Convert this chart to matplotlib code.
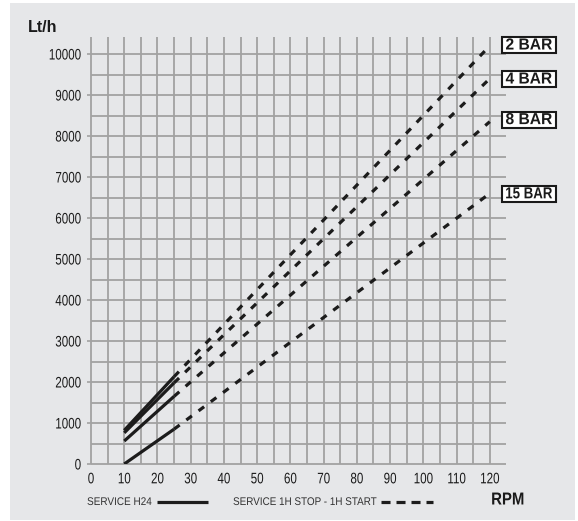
import numpy as np
import matplotlib
matplotlib.use('Agg')
import matplotlib.pyplot as plt
from matplotlib import font_manager
from matplotlib.patches import Rectangle
from matplotlib.lines import Line2D
from matplotlib.patheffects import AbstractPathEffect
from matplotlib.transforms import Affine2D

# pick a condensed font if one is installed
names = {f.name for f in font_manager.fontManager.ttflist}
fam = 'DejaVu Sans'
for cand in ['Liberation Sans Narrow', 'Liberation Sans', 'DejaVu Sans']:
    if cand in names:
        fam = cand
        break
plt.rcParams['font.family'] = [fam, 'DejaVu Sans']
plt.rcParams['lines.scale_dashes'] = False

# data: RPM knots and flow (Lt/h) per pressure
rpm = [10, 25, 120]
bar2 = [820, 2130, 10200]
bar4 = [760, 1980, 9400]
bar8 = [560, 1650, 8350]
bar15 = [0, 850, 6600]
seriesNames = ['2 BAR', '4 BAR', '8 BAR', '15 BAR']
labelY = [10220, 9390, 8400, 6590]
xTicks = list(range(0, 121, 10))
yTicks = list(range(0, 10001, 1000))


class Squeeze(AbstractPathEffect):
    """squeeze text horizontally (condensed look); sx or a target width in px"""
    def __init__(self, sx=None, anchor=0.0, width=None):
        super().__init__()
        self.sx, self.anchor, self.width = sx, anchor, width

    def draw_path(self, renderer, gc, tpath, affine, rgbFace=None):
        ext = tpath.get_extents()
        sx = self.sx
        if self.width is not None:
            sx = self.width / (ext.width * affine.get_matrix()[0, 0])
        ax0 = ext.x0 + ext.width * self.anchor
        t = Affine2D().translate(-ax0, 0).scale(sx, 1).translate(ax0, 0) + affine
        renderer.draw_path(gc, tpath, t, rgbFace)


W, H = 578, 521
fig = plt.figure(figsize=(W / 100, H / 100), dpi=100)
fig.patch.set_facecolor('white')
bg = Rectangle((10 / W, 1 / H), 565 / W, 517 / H, transform=fig.transFigure,
               facecolor='#e6e7e9', edgecolor='none', zorder=-10)
fig.patches.append(bg)

ax = fig.add_axes([91 / W, (H - 464) / H, 415.4 / W, 427.2 / H])
ax.set_facecolor('none')
ax.set_xlim(0, 125)
ax.set_ylim(0, 10420)
for s in ax.spines.values():
    s.set_visible(False)

gridClr = '#a2a2a2'
ax.vlines(np.arange(0, 121, 5), 0, 10420, color=gridClr, lw=1.3, clip_on=False, zorder=1)
ax.hlines(np.arange(0, 10001, 500), 0, 125, color=gridClr, lw=1.3, clip_on=False, zorder=1)

ax.set_xticks(xTicks)
ax.set_xticklabels([str(v) for v in xTicks])
ax.set_yticks(yTicks)
ax.set_yticklabels([str(v) for v in yTicks])
ax.tick_params(axis='x', length=0, pad=6, labelsize=11, colors='#1a1a1a')
ax.tick_params(axis='y', length=3, width=1.2, color=gridClr, pad=4, labelsize=11,
               colors='#1a1a1a')
for lbl in ax.get_xticklabels():
    lbl.set_path_effects([Squeeze(0.76, 0.5)])
for lbl in ax.get_yticklabels():
    lbl.set_path_effects([Squeeze(0.76, 1.0)])

lineClr = '#1c1c1c'
for vals in [bar2, bar4, bar8, bar15]:
    ax.plot(rpm[:2], vals[:2], color=lineClr, lw=2.3, solid_capstyle='butt', zorder=3)
    ax.plot(rpm[1:], vals[1:], color=lineClr, lw=2.3, dashes=(5, 6),
            dash_capstyle='butt', zorder=3)

# boxed series labels on the right
boxX0, boxX1 = 123.7, 139.9
for name, yv in zip(seriesNames, labelY):
    ax.add_patch(Rectangle((boxX0, yv - 195), boxX1 - boxX0, 390, facecolor='white',
                           edgecolor='#1a1a1a', lw=1.5, clip_on=False, zorder=4))
    t = ax.text((boxX0 + boxX1) / 2, yv, name, ha='center', va='center', fontsize=11.5,
                fontweight='bold', color='#1a1a1a', clip_on=False, zorder=5)
    t.set_path_effects([Squeeze(anchor=0.5, width=46)])

fig.text(28 / W, 1 - 27 / H, 'Lt/h', ha='left', va='center', fontsize=11.5,
         fontweight='bold', color='#1a1a1a')
rp = fig.text(491 / W, 1 - 500 / H, 'RPM', ha='left', va='center', fontsize=12.5,
              fontweight='bold', color='#1a1a1a')
rp.set_path_effects([Squeeze(0.86, 0.0)])

# legend at the bottom
legY = 1 - 502 / H
t1 = fig.text(87 / W, legY, 'SERVICE H24', ha='left', va='center', fontsize=8,
              color='#333333')
t1.set_path_effects([Squeeze(anchor=0.0, width=64)])
fig.lines.append(Line2D([157 / W, 208 / W], [legY, legY], transform=fig.transFigure,
                        color=lineClr, lw=2.3, solid_capstyle='butt'))
t2 = fig.text(233 / W, legY, 'SERVICE 1H STOP - 1H START', ha='left', va='center',
              fontsize=8, color='#333333')
t2.set_path_effects([Squeeze(anchor=0.0, width=143)])
fig.lines.append(Line2D([381 / W, 433 / W], [legY, legY], transform=fig.transFigure,
                        color=lineClr, lw=2.3, dashes=(6.5, 4.3), dash_capstyle='butt'))

fig.savefig('out.png', dpi=100)
